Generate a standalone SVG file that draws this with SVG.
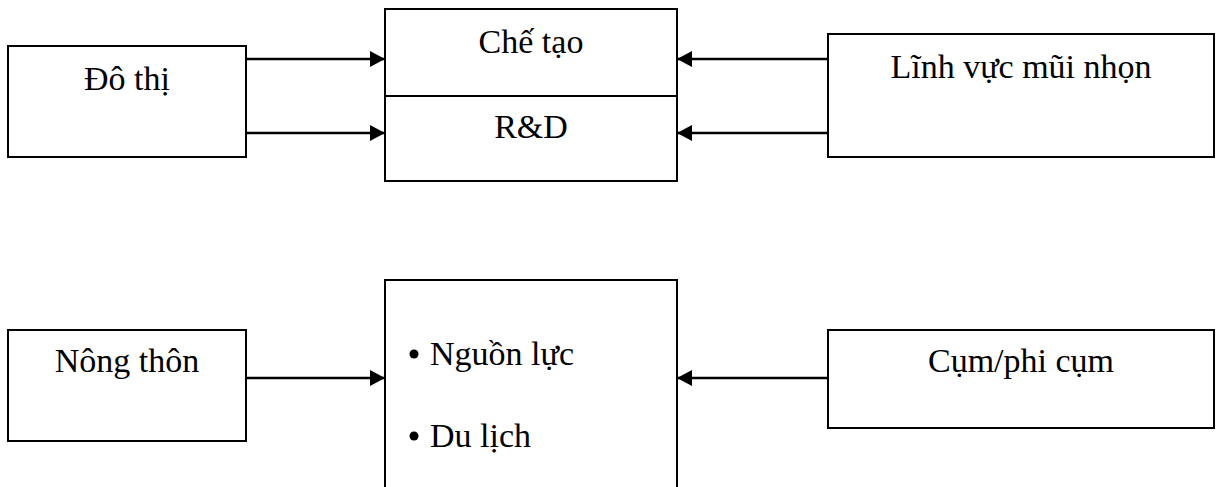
<svg xmlns="http://www.w3.org/2000/svg" width="1216" height="487" viewBox="0 0 1216 487">
  <style>
    .box { fill: #fff; stroke: #000; stroke-width: 2; }
    .lbl { font-family: "Liberation Serif", "Times New Roman", serif; font-size: 34px; fill: #000; }
    .mid { text-anchor: middle; }
    .conn { stroke: #000; stroke-width: 2.5; fill: none; marker-end: url(#arrow); }
  </style>
  <defs>
    <marker id="arrow" markerUnits="userSpaceOnUse" markerWidth="16" markerHeight="16" refX="15" refY="8" orient="auto">
      <path d="M0,0 L15,8 L0,16 Z" fill="#000"/>
    </marker>
  </defs>

  <g id="do-thi">
    <rect class="box" x="8" y="46" width="238" height="111"/>
    <text class="lbl mid" x="127" y="90">Đô thị</text>
  </g>

  <g id="che-tao-rd">
    <rect class="box" x="385" y="9" width="292" height="172"/>
    <line x1="385" y1="96" x2="677" y2="96" stroke="#000" stroke-width="2"/>
    <text class="lbl mid" x="531" y="53">Chế tạo</text>
    <text class="lbl mid" x="531" y="138">R&amp;D</text>
  </g>

  <g id="linh-vuc">
    <rect class="box" x="828" y="34" width="386" height="123"/>
    <text class="lbl mid" x="1021" y="78">Lĩnh vực mũi nhọn</text>
  </g>

  <g id="nong-thon">
    <rect class="box" x="8" y="330" width="238" height="111"/>
    <text class="lbl mid" x="127" y="372">Nông thôn</text>
  </g>

  <g id="nguon-luc">
    <rect class="box" x="385" y="280" width="292" height="220"/>
    <circle cx="414" cy="354" r="4.5" fill="#000"/>
    <text class="lbl" x="430" y="365">Nguồn lực</text>
    <circle cx="414" cy="436" r="4.5" fill="#000"/>
    <text class="lbl" x="430" y="447">Du lịch</text>
  </g>

  <g id="cum">
    <rect class="box" x="828" y="330" width="386" height="98"/>
    <text class="lbl mid" x="1021" y="372">Cụm/phi cụm</text>
  </g>

  <g id="connectors">
    <line class="conn" x1="246" y1="59" x2="385" y2="59"/>
    <line class="conn" x1="246" y1="133" x2="385" y2="133"/>
    <line class="conn" x1="828" y1="59" x2="677" y2="59"/>
    <line class="conn" x1="828" y1="133" x2="677" y2="133"/>
    <line class="conn" x1="246" y1="378" x2="385" y2="378"/>
    <line class="conn" x1="828" y1="378" x2="677" y2="378"/>
  </g>
</svg>
